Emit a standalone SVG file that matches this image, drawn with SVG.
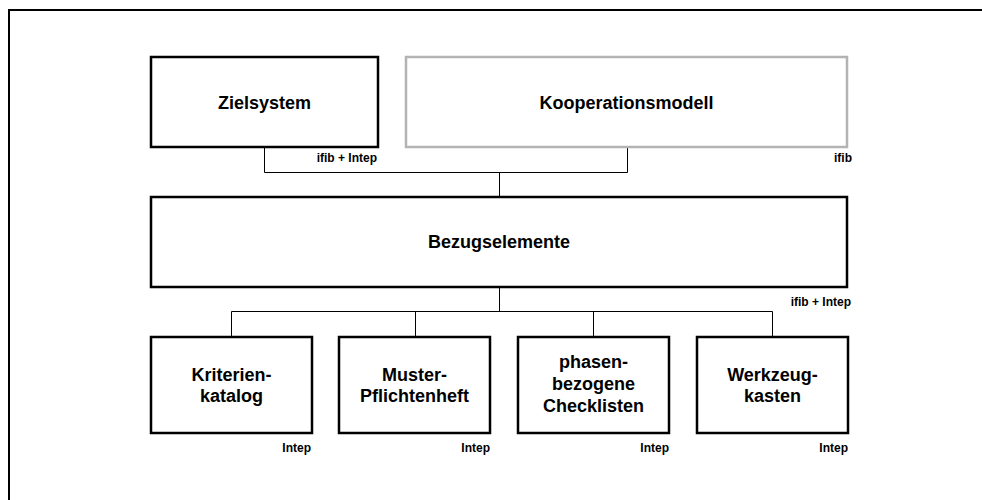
<svg xmlns="http://www.w3.org/2000/svg" width="982" height="500" viewBox="0 0 982 500">
<style>
.box{fill:#fff;stroke:#000;stroke-width:2.5}
.gray{stroke:#b3b3b3}
.t{font-family:"Liberation Sans",Arial,sans-serif;font-weight:bold;font-size:18px;text-anchor:middle;fill:#000}
.s{font-family:"Liberation Sans",Arial,sans-serif;font-weight:bold;font-size:12px;text-anchor:end;fill:#000}
.c{fill:none;stroke:#000;stroke-width:1}
</style>
<rect width="982" height="500" fill="#fff"/>
<path d="M9,500 V10 H982" fill="none" stroke="#000" stroke-width="2"/>
<g id="connectors">
<path class="c" d="M264.5,147 V172.5 H627.5 V147"/>
<path class="c" d="M499.5,172.5 V197"/>
<path class="c" d="M499.5,287 V311.5"/>
<path class="c" d="M231.5,337 V311.5 H772.5 V337"/>
<path class="c" d="M415.5,311.5 V337"/>
<path class="c" d="M593.5,311.5 V337"/>
</g>
<g id="zielsystem">
<rect class="box" x="151" y="57" width="227" height="90"/>
<text class="t" x="264.5" y="109">Zielsystem</text>
<text class="s" x="377" y="162">ifib + Intep</text>
</g>
<g id="kooperationsmodell">
<rect class="box gray" x="406" y="57" width="441" height="90"/>
<text class="t" x="626.5" y="109">Kooperationsmodell</text>
<text class="s" x="852" y="162">ifib</text>
</g>
<g id="bezugselemente">
<rect class="box" x="151" y="197" width="696" height="90"/>
<text class="t" x="499" y="248">Bezugselemente</text>
<text class="s" x="851" y="306">ifib + Intep</text>
</g>
<g id="kriterienkatalog">
<rect class="box" x="151" y="337" width="161" height="96"/>
<text class="t" x="231.5" y="381">Kriterien-</text>
<text class="t" x="231.5" y="402">katalog</text>
<text class="s" x="311" y="452">Intep</text>
</g>
<g id="musterpflichtenheft">
<rect class="box" x="339" y="337" width="151" height="96"/>
<text class="t" x="414.5" y="381">Muster-</text>
<text class="t" x="414.5" y="402">Pflichtenheft</text>
<text class="s" x="490" y="452">Intep</text>
</g>
<g id="checklisten">
<rect class="box" x="518" y="337" width="151" height="96"/>
<text class="t" x="593.5" y="368">phasen-</text>
<text class="t" x="593.5" y="390">bezogene</text>
<text class="t" x="593.5" y="412">Checklisten</text>
<text class="s" x="669" y="452">Intep</text>
</g>
<g id="werkzeugkasten">
<rect class="box" x="697" y="337" width="151" height="96"/>
<text class="t" x="772.5" y="381">Werkzeug-</text>
<text class="t" x="772.5" y="402">kasten</text>
<text class="s" x="848" y="452">Intep</text>
</g>
</svg>
